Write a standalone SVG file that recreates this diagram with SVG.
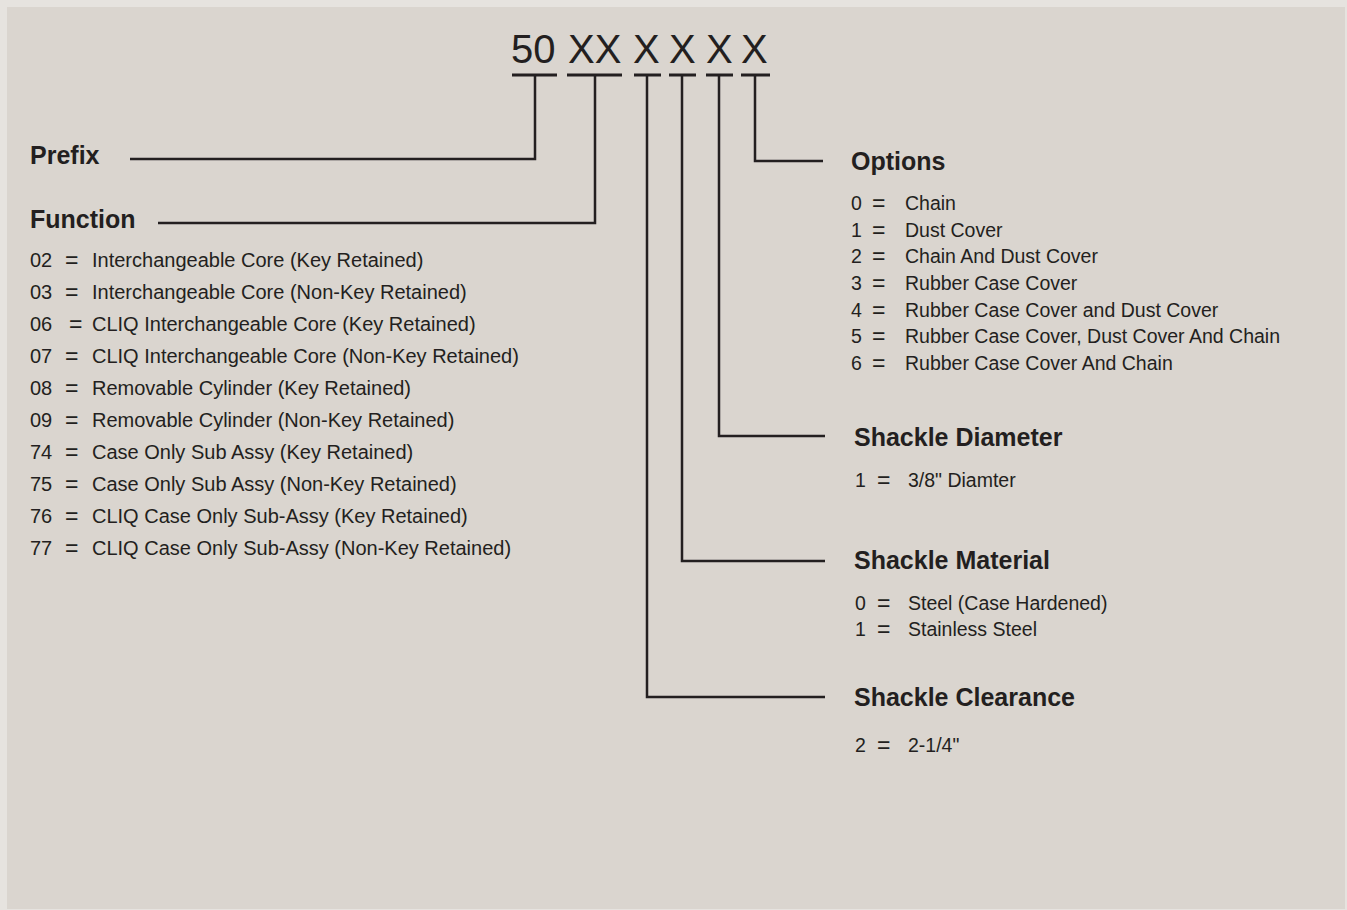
<svg xmlns="http://www.w3.org/2000/svg" width="1347" height="910" viewBox="0 0 1347 910">
<style>
text{font-family:"Liberation Sans",Arial,sans-serif;fill:#231f20}
.code{font-size:40px}
.title{font-size:25px;font-weight:bold}
.item{font-size:20px}
.opt{font-size:19.5px}
.eq{font-size:23px}
.bar{stroke:#231f20;stroke-width:3;fill:none}
.conn{stroke:#231f20;stroke-width:2.5;fill:none}
</style>
<rect x="0" y="0" width="1347" height="910" fill="#e6e3df"/>
<rect x="7" y="7" width="1338" height="902" fill="#dad5cf"/>

<g id="code">
<text class="code" x="511" y="63">50</text>
<text class="code" x="568" y="63">XX</text>
<text class="code" x="633" y="63">X</text>
<text class="code" x="669" y="63">X</text>
<text class="code" x="706" y="63">X</text>
<text class="code" x="741" y="63">X</text>
<line class="bar" x1="512" y1="75" x2="557" y2="75"/>
<line class="bar" x1="567" y1="75" x2="622" y2="75"/>
<line class="bar" x1="634" y1="75" x2="661" y2="75"/>
<line class="bar" x1="669" y1="75" x2="696" y2="75"/>
<line class="bar" x1="706" y1="75" x2="733" y2="75"/>
<line class="bar" x1="741" y1="75" x2="770" y2="75"/>
</g>

<g id="connectors">
<polyline class="conn" points="535,75 535,159 130,159"/>
<polyline class="conn" points="595,75 595,223 158,223"/>
<polyline class="conn" points="755,75 755,161 823,161"/>
<polyline class="conn" points="719,75 719,436 825,436"/>
<polyline class="conn" points="682,75 682,561 825,561"/>
<polyline class="conn" points="647,75 647,697 825,697"/>
</g>

<g id="prefix">
<text class="title" x="30" y="164">Prefix</text>
</g>

<g id="function">
<text class="title" x="30" y="228">Function</text>
<text class="item" x="30" y="267">02</text><text class="eq" x="65" y="268">=</text><text class="item" x="92" y="267">Interchangeable Core (Key Retained)</text>
<text class="item" x="30" y="299">03</text><text class="eq" x="65" y="300">=</text><text class="item" x="92" y="299">Interchangeable Core (Non-Key Retained)</text>
<text class="item" x="30" y="331">06</text><text class="eq" x="69" y="332">=</text><text class="item" x="92" y="331">CLIQ Interchangeable Core (Key Retained)</text>
<text class="item" x="30" y="363">07</text><text class="eq" x="65" y="364">=</text><text class="item" x="92" y="363">CLIQ Interchangeable Core (Non-Key Retained)</text>
<text class="item" x="30" y="395">08</text><text class="eq" x="65" y="396">=</text><text class="item" x="92" y="395">Removable Cylinder (Key Retained)</text>
<text class="item" x="30" y="427">09</text><text class="eq" x="65" y="428">=</text><text class="item" x="92" y="427">Removable Cylinder (Non-Key Retained)</text>
<text class="item" x="30" y="459">74</text><text class="eq" x="65" y="460">=</text><text class="item" x="92" y="459">Case Only Sub Assy (Key Retained)</text>
<text class="item" x="30" y="491">75</text><text class="eq" x="65" y="492">=</text><text class="item" x="92" y="491">Case Only Sub Assy (Non-Key Retained)</text>
<text class="item" x="30" y="523">76</text><text class="eq" x="65" y="524">=</text><text class="item" x="92" y="523">CLIQ Case Only Sub-Assy (Key Retained)</text>
<text class="item" x="30" y="555">77</text><text class="eq" x="65" y="556">=</text><text class="item" x="92" y="555">CLIQ Case Only Sub-Assy (Non-Key Retained)</text>
</g>

<g id="options">
<text class="title" x="851" y="170">Options</text>
<text class="opt" x="851" y="210">0</text><text class="eq" x="872" y="211">=</text><text class="opt" x="905" y="210">Chain</text>
<text class="opt" x="851" y="237">1</text><text class="eq" x="872" y="238">=</text><text class="opt" x="905" y="237">Dust Cover</text>
<text class="opt" x="851" y="263">2</text><text class="eq" x="872" y="264">=</text><text class="opt" x="905" y="263">Chain And Dust Cover</text>
<text class="opt" x="851" y="290">3</text><text class="eq" x="872" y="291">=</text><text class="opt" x="905" y="290">Rubber Case Cover</text>
<text class="opt" x="851" y="317">4</text><text class="eq" x="872" y="318">=</text><text class="opt" x="905" y="317">Rubber Case Cover and Dust Cover</text>
<text class="opt" x="851" y="343">5</text><text class="eq" x="872" y="344">=</text><text class="opt" x="905" y="343">Rubber Case Cover, Dust Cover And Chain</text>
<text class="opt" x="851" y="370">6</text><text class="eq" x="872" y="371">=</text><text class="opt" x="905" y="370">Rubber Case Cover And Chain</text>
</g>

<g id="shackle-diameter">
<text class="title" x="854" y="446">Shackle Diameter</text>
<text class="opt" x="855" y="487">1</text><text class="eq" x="877" y="488">=</text><text class="opt" x="908" y="487">3/8" Diamter</text>
</g>

<g id="shackle-material">
<text class="title" x="854" y="569">Shackle Material</text>
<text class="opt" x="855" y="610">0</text><text class="eq" x="877" y="611">=</text><text class="opt" x="908" y="610">Steel (Case Hardened)</text>
<text class="opt" x="855" y="636">1</text><text class="eq" x="877" y="637">=</text><text class="opt" x="908" y="636">Stainless Steel</text>
</g>

<g id="shackle-clearance">
<text class="title" x="854" y="706">Shackle Clearance</text>
<text class="opt" x="855" y="752">2</text><text class="eq" x="877" y="753">=</text><text class="opt" x="908" y="752">2-1/4"</text>
</g>
</svg>
